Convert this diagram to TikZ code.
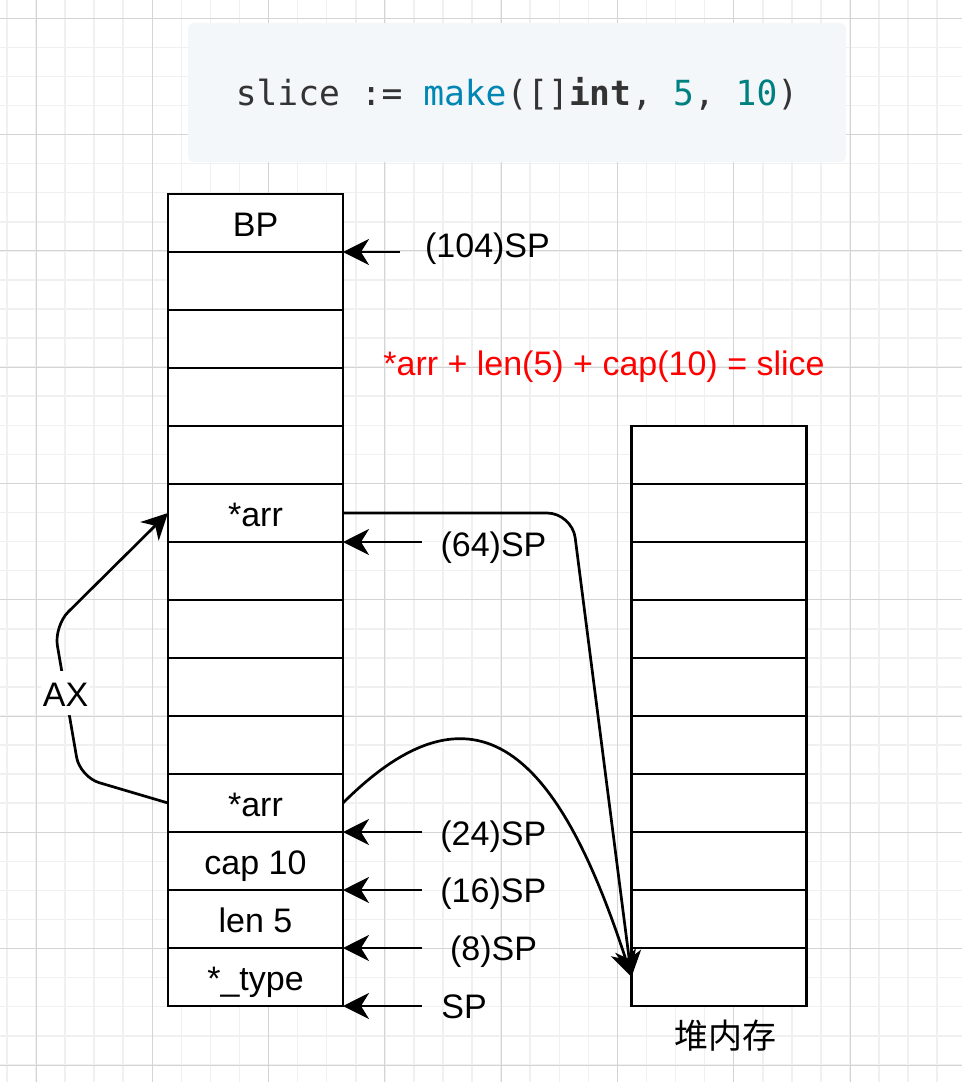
\documentclass[tikz,border=0pt]{standalone}
\usepackage{fontspec}
\setmainfont{Liberation Sans}
\setmonofont{DejaVu Sans Mono}
\newfontfamily\cjk{Noto Sans CJK SC}
\usetikzlibrary{arrows.meta}
\definecolor{codebg}{HTML}{F4F7FA}
\definecolor{codefg}{HTML}{333333}
\definecolor{codefn}{HTML}{0086B3}
\definecolor{codenum}{HTML}{008080}
\definecolor{gridminor}{HTML}{F0F0F0}
\definecolor{gridmajor}{HTML}{D4D4D4}
\definecolor{formula}{HTML}{FF0000}

\begin{document}
\begin{tikzpicture}[x=1pt,y=1pt,
  font=\fontsize{34pt}{40pt}\selectfont,
  cell/.style={draw,fill=white,line width=2.9pt,minimum width=175pt,minimum height=58pt,
    inner sep=0pt,outer sep=0pt,text height=26pt,text depth=0pt},
  lbl/.style={inner sep=0pt,text height=26pt,text depth=0pt},
  ptr/.style={line width=2.7pt,-{Stealth[length=26pt,width=26pt,inset=8pt]}},
  minor/.style={draw=gridminor,line width=1.5pt},
  major/.style={draw=gridmajor,line width=1pt}]
\useasboundingbox (0,0) rectangle (962,-1082);
\foreach \k in {0,...,33} \draw[minor] ({6.93+29.07*\k},0) -- ++(0,-1082);
\foreach \k in {0,...,38} \draw[minor] (0,{10.77-29.07*\k}) -- ++(962,0);
\foreach \k in {0,...,7} \draw[major] ({36+116.3*\k},0) -- ++(0,-1082);
\foreach \k in {0,...,9} \draw[major] (0,{-18.3-116.3*\k}) -- ++(962,0);

\node[fill=codebg,rounded corners=6pt,minimum width=658pt,minimum height=139pt,
  text height=26pt,text depth=0pt,text=codefg,font=\fontsize{34.6pt}{40pt}\selectfont\ttfamily]
  (code) at (517,-92.5) {slice := \textcolor{codefn}{make}([]\textbf{int}, \textcolor{codenum}{5}, \textcolor{codenum}{10})};

\foreach \t [count=\i] in {BP,{},{},{},{},*arr,{},{},{},{},*arr,cap 10,len 5,*\_type}
  \node[cell] (s\i) at (255.5,{-165-58*\i}) {\t};
\foreach \i in {1,...,10}
  \node[cell] (h\i) at (719,{-397-58*\i}) {};

\node[lbl,text=formula] (sum) at (604,-362) {*arr + len(5) + cap(10) = slice};
\node[lbl] (l104) at (487.5,-244.5) {(104)SP};
\node[lbl] (l64) at (493.5,-543) {(64)SP};
\node[lbl] (l24) at (493.3,-832) {(24)SP};
\node[lbl] (l16) at (493.3,-889.7) {(16)SP};
\node[lbl] (l8) at (493.5,-947) {(8)SP};
\node[lbl] (lsp) at (464,-1005) {SP};
\node (heap) at (725,-1036) {\cjk 堆内存};

\coordinate (tail) at (422,0);
\coordinate (tail104) at (400,0);
\draw[ptr] (tail104 |- s2.north east) -- (s2.north east);
\foreach \c in {s7.north east,s12.north east,s13.north east,s14.north east,s14.south east}
  \draw[ptr] (tail |- \c) -- (\c);

\draw[ptr,rounded corners=20pt] (s11.west) -- ++(-88,26) -- ++(-26,151)
  node[lbl,pos=0.556,fill=white,inner xsep=2pt,inner ysep=9pt] (ax) {AX} -- (s6.west);
\draw[ptr,rounded corners=25pt] (s6.east) -- ++(229,0) -- (h10.west);
\draw[ptr] (s11.east) .. controls +(45:198) and +(108:220) .. (h10.west);
\end{tikzpicture}
\end{document}
